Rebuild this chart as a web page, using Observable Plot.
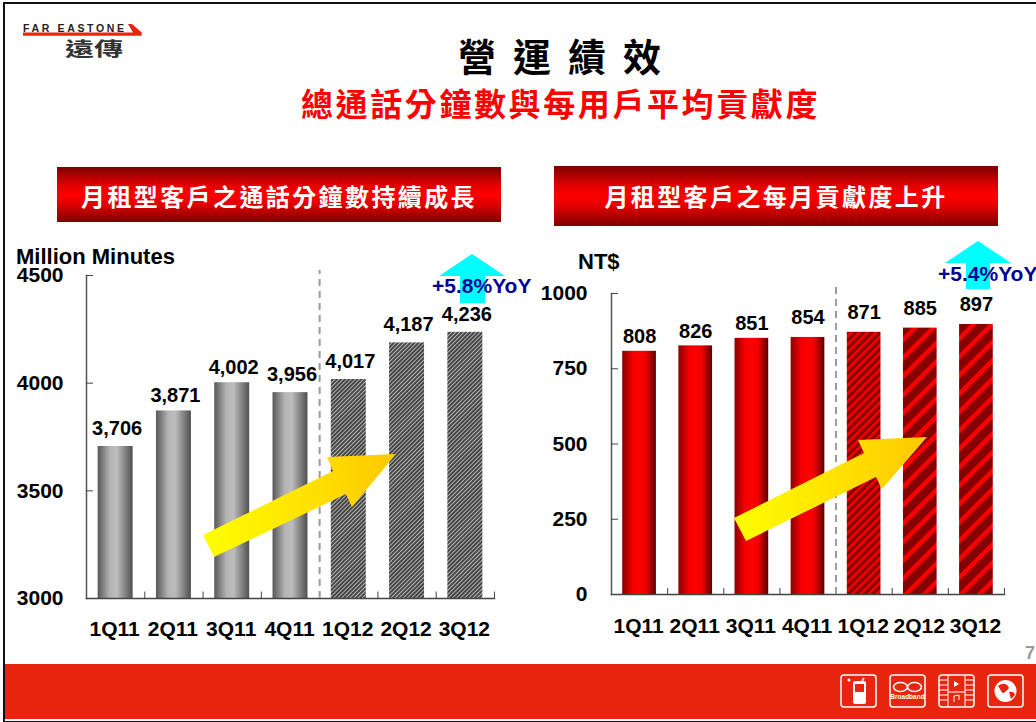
<!DOCTYPE html>
<html lang="zh-Hant">
<head>
<meta charset="utf-8">
<script src="https://cdn.jsdelivr.net/npm/d3@7"></script>
<script src="https://cdn.jsdelivr.net/npm/@observablehq/plot@0.6"></script>
<style>
  html,body{margin:0;padding:0;background:#fff;overflow:hidden}
  #stage{position:relative;width:1036px;height:722px;overflow:hidden;background:#fff;font-family:"Liberation Sans",Arial,sans-serif}
  #stage>*{position:absolute}
  .cjk{font-family:"Noto Sans CJK TC","Noto Sans CJK SC",sans-serif;font-weight:700;white-space:nowrap;line-height:1}
  #edge{left:3px;top:2px;width:1040px;height:717px;border:2px solid #111;border-bottom-width:3px;box-sizing:content-box;pointer-events:none}
  #footer{left:5px;top:664px;right:0;height:55px;background:#e8260f}
  #title{left:458px;top:36px;font-size:38px;letter-spacing:17px;color:#000}
  #subtitle{left:301px;top:86px;font-size:32px;letter-spacing:2.6px;color:#f00}
  .banner{background:linear-gradient(180deg,#7d0000 0%,#e00000 32%,#ff0000 50%,#e00000 68%,#7d0000 100%);color:#fff;font-size:24px;text-align:center}
  #b1{left:57px;top:167px;width:444px;height:55px;line-height:57px;letter-spacing:2.4px}
  #b2{left:554px;top:166px;width:444px;height:60px;line-height:59px;letter-spacing:2.4px}
  .lab{font-weight:700;font-size:22px;line-height:1;white-space:nowrap;color:#000}
  .yoy{font-weight:700;font-size:21px;line-height:1;white-space:nowrap;color:#000099}
</style>
</head>
<body>
<div id="stage">
  <div id="edge"></div>
  <div id="footer"></div>

  <svg style="left:20px;top:20px" width="125" height="42" viewBox="0 0 125 42">
    <text x="3" y="11.7" font-family="Liberation Sans" font-weight="700" font-size="10.5" letter-spacing="2.65" fill="#222">FAR EASTONE</text>
    <path d="M3 12.5H113L108 4H112L121.7 12.5V15.7H3Z" fill="#e8260f"/>
    <text x="45" y="36" font-family="Noto Sans CJK TC" font-weight="700" font-size="19.5" textLength="58" lengthAdjust="spacingAndGlyphs" fill="#333">遠傳</text>
  </svg>

  <div id="title" class="cjk">營運績效</div>
  <div id="subtitle" class="cjk">總通話分鐘數與每用戶平均貢獻度</div>
  <div id="b1" class="cjk banner">月租型客戶之通話分鐘數持續成長</div>
  <div id="b2" class="cjk banner">月租型客戶之每月貢獻度上升</div>

  <svg width="0" height="0" style="left:0;top:0">
    <defs>
      <linearGradient id="grayBar"><stop offset="0" stop-color="#585858"/><stop offset=".35" stop-color="#b4b4b4"/><stop offset=".55" stop-color="#bdbdbd"/><stop offset="1" stop-color="#505050"/></linearGradient>
      <linearGradient id="redBar"><stop offset="0" stop-color="#8a0000"/><stop offset=".3" stop-color="#f00000"/><stop offset=".5" stop-color="#ff0000"/><stop offset=".7" stop-color="#ee0000"/><stop offset="1" stop-color="#5c0000"/></linearGradient>
      <pattern id="grayHatch" patternUnits="userSpaceOnUse" width="2.9" height="2.9" patternTransform="rotate(45)">
        <rect width="2.9" height="2.9" fill="#424242"/><rect width="1" height="2.9" fill="#b8b8b8"/>
      </pattern>
      <pattern id="redFine" patternUnits="userSpaceOnUse" width="5.8" height="5.8" patternTransform="rotate(45)">
        <rect width="5.8" height="5.8" fill="#860000"/><rect width="2.7" height="5.8" fill="#f40000"/>
      </pattern>
      <pattern id="redWide" patternUnits="userSpaceOnUse" width="13" height="13" patternTransform="rotate(45)">
        <rect width="13" height="13" fill="#860000"/><rect width="4.6" height="13" fill="#fb0000"/>
      </pattern>
      <linearGradient id="bigArrow"><stop offset="0" stop-color="#ffff00"/><stop offset="1" stop-color="#ffc800"/></linearGradient>
    </defs>
  </svg>

  <div id="leftChart" style="left:0;top:250px"></div>
  <div id="rightChart" style="left:530px;top:250px"></div>

  <svg width="1036" height="722" style="left:0;top:0;pointer-events:none">
    <polygon points="203,535 214,557 346,494 352,507 396,454 327,457 333,471" fill="url(#bigArrow)"/>
    <polygon points="734,518 746,541 876,477 882,489 927,437 858,440 864,453" fill="url(#bigArrow)"/>
    <polygon points="472,254 505,276 485,276 485,303 460,303 460,276 439,276" fill="#00ffff"/>
    <polygon points="978,241 1011,263 990,263 990,289 966,289 966,263 945,263" fill="#00ffff"/>
  </svg>

  <div class="lab" style="left:16px;top:246px">Million Minutes</div>
  <div class="lab" style="left:578px;top:251px">NT$</div>
  <div class="yoy" style="left:432px;top:275px">+5.8%YoY</div>
  <div class="yoy" style="left:938px;top:263px">+5.4%YoY</div>
  <div class="lab" style="left:1025px;top:644px;color:#999;font-size:18px">7</div>

  <svg width="195" height="40" viewBox="0 0 195 40" style="left:836px;top:671px" fill="none" stroke="#fff" stroke-width="1.5">
    <rect x="5" y="4" width="35" height="32" rx="3"/>
    <rect x="54" y="4" width="35" height="32" rx="3"/>
    <rect x="103" y="4" width="35" height="32" rx="3"/>
    <rect x="152" y="4" width="35" height="32" rx="3"/>
    <rect x="17" y="10" width="13" height="23" rx="2" fill="#fff" stroke="none"/>
    <rect x="19" y="13" width="9" height="8" fill="#e8260f" stroke="none"/>
    <path d="M26 10l2-3" stroke-width="1.5"/><circle cx="13" cy="9" r="1.5" fill="#fff" stroke="none"/>
    <ellipse cx="64.5" cy="16" rx="7" ry="4.5"/><ellipse cx="78.5" cy="16" rx="7" ry="4.5"/>
    <text x="71.5" y="28" text-anchor="middle" font-size="6.5" font-weight="700" font-family="Liberation Sans" fill="#fff" stroke="none">Broadband</text>
    <path d="M112 4v32M129 4v32M112 21h17M103 9h9M103 14h9M103 19h9M103 24h9M103 29h9M129 9h9M129 14h9M129 19h9M129 24h9M129 29h9" stroke-width="1"/><path d="M118 10l5 3-5 3z" fill="#fff" stroke="none"/><path d="M118 31v-6l5-1v5" stroke-width="1"/>
    <circle cx="169.5" cy="20" r="11" fill="#fff" stroke="none"/><path d="M162 15q5-4 9-1t-1 6q-3 4-5 0t-3-5zM173 21q5-1 6 3l-4 4z" fill="#e8260f" stroke="none"/>
  </svg>
</div>

<script>
const categories = ["1Q11","2Q11","3Q11","4Q11","1Q12","2Q12","3Q12"];
const minutes = [3706,3871,4002,3956,4017,4187,4236];
const arpu = [808,826,851,854,871,885,897];
const minuteTicks = [3000,3500,4000,4500];
const arpuTicks = [0,250,500,750,1000];
const forecastDivider = "4Q11";

const FONT = '"Liberation Sans",Arial,sans-serif';

function chart({values, yDomain, yTicks, width, height, margins, step, solidFill, hatchFills, highLabels, lowDy, highDy, tickUnits, dividerTop, labelDx, tickPad, xPad}) {
  const rows = categories.map((q, i) => ({q, v: values[i], i}));
  const base = yDomain[0];
  const bars = (data, fill) => Plot.barY(data, {x: "q", y1: () => base, y2: "v", fill});
  const labels = (data, dy) => Plot.text(data, {x: "q", y: "v", text: d => d3.format(",")(d.v), dy, dx: labelDx, fontSize: 20, fontWeight: 700, fill: "#000"});
  return Plot.plot({
    width, height, ...margins,
    style: {fontFamily: FONT, fontWeight: 700, background: "transparent", overflow: "visible", color: "#000"},
    x: {domain: categories, paddingInner: 0.4, paddingOuter: 0.2, round: false, label: null},
    y: {domain: yDomain, label: null},
    marks: [
      bars(rows.filter(d => d.i < 4), solidFill),
      ...hatchFills.map((f, k) => bars([rows[4 + k]], f)),
      Plot.frame({anchor: "left", stroke: "#555", strokeWidth: 1.5}),
      Plot.frame({anchor: "bottom", stroke: "#444", strokeWidth: 1.5}),
      Plot.ruleX(categories, {x: d => d, dx: step / 2, y1: base, y2: base + tickUnits, stroke: "#444", strokeWidth: 1}),
      Plot.ruleX([forecastDivider], {x: d => d, dx: step / 2, y1: base, y2: dividerTop, stroke: "#9a9a9a", strokeWidth: 2, strokeDasharray: "7,5"}),
      Plot.axisY({ticks: yTicks, tickFormat: "d", tickSize: -7, tickPadding: tickPad, stroke: "#444", fill: "#000", fontSize: 21, fontWeight: 700, label: null}),
      Plot.axisX({tickSize: 0, tickPadding: xPad, dx: -1, fill: "#000", fontSize: 21, fontWeight: 700, label: null}),
      labels(rows.filter(d => !highLabels.has(d.q)), lowDy),
      labels(rows.filter(d => highLabels.has(d.q)), highDy)
    ]
  });
}

document.getElementById("leftChart").append(chart({
  values: minutes, yDomain: [3000,4500], yTicks: minuteTicks,
  width: 520, height: 400,
  margins: {marginLeft: 86, marginRight: 26, marginTop: 25, marginBottom: 52},
  step: 58.29, solidFill: "url(#grayBar)",
  hatchFills: ["url(#grayHatch)","url(#grayHatch)","url(#grayHatch)"],
  highLabels: new Set(["2Q11","3Q11"]), lowDy: -18, highDy: -15,
  tickUnits: 30, dividerTop: 4523, labelDx: 1.5, tickPad: 30, xPad: 23
}));

document.getElementById("rightChart").append(chart({
  values: arpu, yDomain: [0,1000], yTicks: arpuTicks,
  width: 500, height: 400,
  margins: {marginLeft: 81, marginRight: 26, marginTop: 43, marginBottom: 56},
  step: 56.14, solidFill: "url(#redBar)",
  hatchFills: ["url(#redFine)","url(#redWide)","url(#redWide)"],
  highLabels: new Set(["1Q11","2Q11","3Q11"]), lowDy: -19.5, highDy: -14.5,
  tickUnits: 20, dividerTop: 1032, labelDx: 0, tickPad: 31, xPad: 24
}));
</script>
</body>
</html>
